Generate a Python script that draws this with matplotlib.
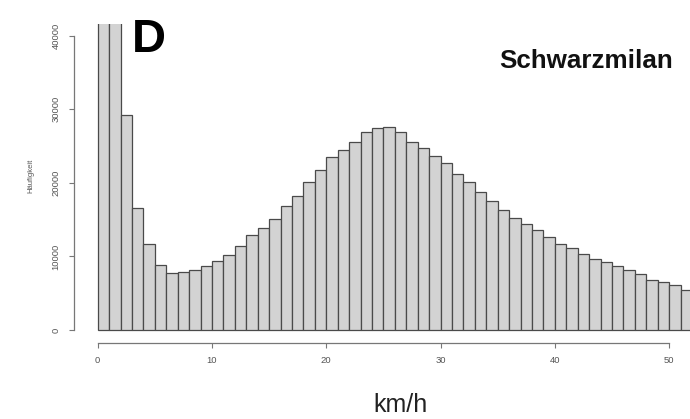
import matplotlib
matplotlib.use("Agg")
import matplotlib.pyplot as plt

plt.rcParams['font.family'] = ['Liberation Sans', 'DejaVu Sans']

# histogram of flight speeds, 1 km/h bins starting at 0
bin_start = list(range(52))
counts = [62000, 52000, 29200, 16550, 11700, 8830, 7790, 7920, 8150, 8740,
          9380, 10150, 11400, 12860, 13900, 15040, 16890, 18250, 20150, 21780,
          23460, 24500, 25590, 26940, 27490, 27620, 26940, 25590, 24770, 23680,
          22650, 21200, 20150, 18790, 17570, 16300, 15260, 14400, 13590, 12680,
          11690, 11180, 10330, 9650, 9280, 8740, 8150, 7610, 6790, 6480,
          6110, 5440]
x_ticks = [0, 10, 20, 30, 40, 50]
y_ticks = [0, 10000, 20000, 30000, 40000]

W, H = 690, 419
fig = plt.figure(figsize=(W / 100, H / 100), dpi=100)
ax = fig.add_axes([74 / W, 1 - 343 / H, 1 - 74 / W, (343 - 24) / H])

ax.bar(bin_start, counts, width=1, align='edge', color='#d3d3d3',
       edgecolor='#4a4a4a', linewidth=0.9)

ax.set_xlim(-2.07, 51.82)
ax.set_ylim(-1766, 41576)

for s in ['top', 'right']:
    ax.spines[s].set_visible(False)
ax.spines['left'].set_bounds(0, 40000)
ax.spines['bottom'].set_bounds(0, 50)
for s in ['left', 'bottom']:
    ax.spines[s].set_color('#777777')
    ax.spines[s].set_linewidth(0.9)

ax.set_xticks(x_ticks)
ax.set_yticks(y_ticks)
ax.set_yticklabels([str(v) for v in y_ticks], rotation=90, va='center')
ax.tick_params(axis='both', direction='out', length=3.6, width=0.8,
               color='#777777', labelsize=6.8, labelcolor='#555555')
ax.tick_params(axis='y', pad=6)
ax.tick_params(axis='x', pad=6)

fig.text(31 / W, 1 - 176 / H, 'Häufigkeit', rotation=90, fontsize=5.5,
         color='#555555', ha='center', va='center')
fig.text(132 / W, 1 - 52.5 / H, 'D', fontsize=34, fontweight='bold',
         va='baseline', ha='left')
fig.text(499 / W, 1 - 68.5 / H, 'Schwarzmilan', fontsize=18.7, fontweight='bold',
         va='baseline', ha='left', color='#111111')
fig.text(400.5 / W, 1 - 412 / H, 'km/h', fontsize=18, va='baseline',
         ha='center', color='#222222')

fig.savefig('out.png', dpi=100)
